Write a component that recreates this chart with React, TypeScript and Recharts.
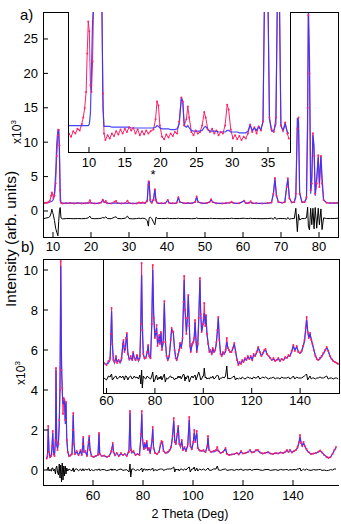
import { LineChart, Line, XAxis, YAxis } from "recharts";

const FONT = '"Liberation Sans", Arial, Helvetica, sans-serif';
const RED = "#ff2266";
const BLUE = "#3232ff";

// panel a, full pattern (x10^3 counts)
const thetaA = [
  7.6, 8.0, 8.4, 8.8, 9.2, 9.5, 9.7, 9.9, 10.1, 10.4,
  10.7, 11.0, 11.3, 11.5, 11.7, 11.9, 12.1, 12.5, 13.5, 14.5,
  15.5, 16.5, 17.5, 18.5, 19.3, 19.7, 20.1, 21.0, 22.0, 22.7,
  23.1, 23.5, 23.9, 24.3, 25.3, 26.2, 26.6, 27.0, 28.0, 29.0,
  29.6, 30.0, 31.0, 32.0, 32.6, 33.1, 33.6, 34.2, 34.8, 35.1,
  35.3, 35.6, 36.0, 36.5, 36.8, 37.1, 37.5, 38.5, 39.5, 40.2,
  40.6, 41.5, 42.5, 43.0, 43.4, 44.5, 45.5, 46.5, 47.4, 47.8,
  48.2, 49.2, 50.5, 51.2, 51.6, 52.0, 53.0, 54.5, 55.5, 56.5,
  57.0, 57.5, 59.0, 60.3, 60.7, 61.5, 62.0, 62.4, 63.5, 65.0,
  66.5, 67.5, 68.0, 68.4, 68.8, 69.3, 70.3, 71.0, 71.5, 71.8,
  72.2, 72.8, 73.5, 73.9, 74.3, 74.6, 74.9, 75.5, 76.2, 76.7,
  77.0, 77.2, 77.5, 77.8, 78.1, 78.4, 78.7, 79.0, 79.4, 79.8,
  80.1, 80.5, 80.8, 81.2, 82.0, 83.0, 84.0, 85.0,
];
const obsA = [
  1.15, 1.2, 1.2, 1.3, 1.5, 2.2, 2.7, 2.4, 1.9, 2.2,
  4.0, 8.0, 11.0, 11.8, 9.5, 3.0, 1.2, 1.1, 1.12, 1.15,
  1.1, 1.15, 1.1, 1.12, 1.2, 1.55, 1.15, 1.1, 1.12, 1.25,
  1.65, 1.3, 1.45, 1.12, 1.1, 1.35, 1.45, 1.15, 1.1, 1.15,
  1.5, 1.15, 1.08, 1.1, 1.25, 1.15, 1.25, 1.15, 1.4, 3.8,
  4.3, 1.6, 1.2, 1.6, 3.15, 1.6, 1.15, 1.12, 1.12, 1.6,
  1.15, 1.12, 1.15, 2.0, 1.3, 1.12, 1.15, 1.12, 1.3, 2.1,
  1.3, 1.12, 1.15, 1.3, 1.7, 1.3, 1.12, 1.1, 1.15, 1.2,
  1.35, 1.15, 1.12, 1.5, 1.15, 1.15, 1.4, 1.15, 1.12, 1.1,
  1.15, 1.25, 2.5, 4.8, 2.2, 1.3, 1.2, 1.3, 3.5, 4.75,
  1.8, 1.25, 1.3, 2.5, 12.0, 13.6, 2.5, 1.3, 1.3, 2.0,
  15.0, 28.5, 20.0, 3.0, 4.0, 11.3, 8.0, 2.5, 4.0, 8.1,
  3.5, 8.0, 4.0, 1.6, 1.2, 1.15, 1.15, 1.2,
];
const calcA = [
  1.15, 1.18, 1.2, 1.22, 1.3, 1.35, 1.4, 1.5, 1.7, 2.6,
  5.5, 10.0, 11.8, 11.7, 8.0, 1.5, 1.2, 1.15, 1.15, 1.15,
  1.14, 1.14, 1.13, 1.13, 1.14, 1.2, 1.13, 1.12, 1.12, 1.22,
  1.6, 1.25, 1.2, 1.12, 1.12, 1.15, 1.18, 1.12, 1.11, 1.11,
  1.15, 1.11, 1.1, 1.1, 1.2, 1.12, 1.2, 1.12, 1.6, 4.3,
  4.2, 1.4, 1.2, 1.9, 3.2, 1.4, 1.15, 1.12, 1.12, 1.55,
  1.15, 1.12, 1.13, 1.95, 1.3, 1.12, 1.13, 1.12, 1.3, 2.0,
  1.3, 1.12, 1.13, 1.3, 1.65, 1.3, 1.12, 1.12, 1.13, 1.2,
  1.3, 1.15, 1.12, 1.45, 1.15, 1.13, 1.35, 1.15, 1.12, 1.12,
  1.13, 1.2, 2.6, 4.6, 2.3, 1.3, 1.2, 1.3, 3.6, 4.6,
  1.9, 1.25, 1.3, 2.0, 13.5, 13.0, 2.7, 1.3, 1.3, 1.8,
  12.0, 30.0, 22.0, 2.5, 5.0, 11.0, 9.5, 2.2, 5.0, 7.8,
  4.0, 8.0, 5.0, 1.6, 1.2, 1.15, 1.13, 1.15,
];
const diffA = [
  -1.1, -1.05, -1.0, -0.95, -0.8, -0.3, 0.25, -0.2, -0.6, -1.4,
  -2.5, -3.1, -3.6, -1.5, 0.1, 0.5, -1.0, -1.15, -1.1, -1.1,
  -1.12, -1.1, -1.12, -1.1, -1.0, -0.75, -1.1, -1.12, -1.1, -1.05,
  -0.95, -1.0, -0.85, -1.1, -1.12, -0.9, -0.85, -1.1, -1.12, -1.05,
  -0.75, -1.1, -1.14, -1.1, -1.05, -1.1, -1.05, -1.1, -1.4, -2.2,
  -1.0, -0.9, -1.1, -1.7, -2.0, -0.9, -1.1, -1.1, -1.1, -1.05,
  -1.1, -1.1, -1.1, -1.05, -1.1, -1.1, -1.1, -1.12, -1.1, -1.0,
  -1.1, -1.1, -1.1, -1.1, -1.05, -1.1, -1.1, -1.12, -1.1, -1.1,
  -1.05, -1.1, -1.1, -1.05, -1.1, -1.1, -1.05, -1.1, -1.1, -1.12,
  -1.1, -1.05, -1.2, -0.9, -1.2, -1.1, -1.1, -1.1, -1.2, -0.95,
  -1.2, -1.1, -1.1, 0.4, -3.0, -0.5, -1.3, -1.1, -1.1, -1.0,
  0.55, -2.2, -2.75, 0.4, -2.0, 0.4, -2.6, 0.5, -2.5, 0.4,
  -2.0, 0.3, -2.7, -1.0, -1.1, -1.1, -1.1, -1.05,
];

// panel a, inset (low-angle region, magnified)
const thetaIA = [
  7.2, 7.5, 7.8, 8.1, 8.4, 8.7, 9.0, 9.2, 9.4, 9.6,
  9.75, 9.9, 10.05, 10.2, 10.35, 10.5, 10.65, 11.8, 11.95, 12.1,
  12.3, 12.6, 12.9, 13.2, 13.5, 13.8, 14.1, 14.4, 14.7, 15.0,
  15.3, 15.6, 15.9, 16.2, 16.5, 16.8, 17.1, 17.4, 17.7, 18.0,
  18.3, 18.6, 19.0, 19.3, 19.5, 19.7, 19.9, 20.2, 20.5, 20.8,
  21.1, 21.4, 21.7, 22.0, 22.3, 22.6, 22.9, 23.1, 23.3, 23.6,
  23.8, 24.0, 24.3, 24.6, 24.9, 25.2, 25.5, 25.8, 26.1, 26.3,
  26.6, 26.9, 27.2, 27.5, 27.8, 28.1, 28.4, 28.7, 29.0, 29.3,
  29.5, 29.8, 30.1, 30.4, 30.7, 31.0, 31.3, 31.6, 31.9, 32.2,
  32.5, 32.8, 33.1, 33.4, 33.7, 34.0, 34.3, 34.5, 35.0, 35.2,
  35.5, 35.8, 36.1, 36.3, 36.6, 36.8, 37.1, 37.4, 37.7, 37.9,
];
const obsIA = [
  1.1, 1.06, 1.13, 1.1, 1.16, 1.14, 1.22, 1.3, 1.42, 1.62,
  2.1, 2.5, 2.38, 1.7, 1.62, 2.0, 2.75, 2.75, 1.6, 1.1,
  1.02, 1.08, 1.04, 1.1, 1.07, 1.13, 1.09, 1.15, 1.1, 1.16,
  1.12, 1.18, 1.14, 1.17, 1.1, 1.15, 1.08, 1.13, 1.09, 1.14,
  1.1, 1.13, 1.15, 1.28, 1.5, 1.45, 1.2, 1.06, 1.03, 1.09,
  1.05, 1.1, 1.07, 1.12, 1.1, 1.25, 1.55, 1.5, 1.2, 1.28,
  1.44, 1.3, 1.12, 1.08, 1.14, 1.1, 1.12, 1.2, 1.37, 1.3,
  1.15, 1.12, 1.16, 1.1, 1.14, 1.08, 1.12, 1.1, 1.2, 1.46,
  1.4, 1.15, 1.04, 1.08, 1.03, 1.07, 1.02, 1.06, 1.04, 1.1,
  1.21, 1.12, 1.18, 1.1, 1.19, 1.14, 1.25, 2.75, 2.75, 1.3,
  1.15, 1.12, 1.3, 2.75, 2.75, 1.2, 1.14, 1.24, 1.1, 1.04,
];
const calcIA = [
  1.2, 1.2, 1.2, 1.2, 1.2, 1.2, 1.2, 1.2, 1.2, 1.2,
  1.2, 1.2, 1.22, 1.35, 1.9, 2.5, 2.75, 2.75, 1.4, 1.19,
  1.19, 1.19, 1.19, 1.18, 1.18, 1.18, 1.18, 1.18, 1.18, 1.18,
  1.18, 1.18, 1.17, 1.17, 1.17, 1.17, 1.17, 1.17, 1.17, 1.17,
  1.17, 1.17, 1.17, 1.18, 1.2, 1.19, 1.17, 1.16, 1.16, 1.16,
  1.16, 1.15, 1.15, 1.15, 1.16, 1.22, 1.55, 1.5, 1.2, 1.18,
  1.2, 1.17, 1.14, 1.13, 1.13, 1.13, 1.13, 1.14, 1.18, 1.19,
  1.15, 1.13, 1.13, 1.13, 1.13, 1.12, 1.12, 1.12, 1.12, 1.14,
  1.14, 1.12, 1.12, 1.12, 1.12, 1.11, 1.11, 1.11, 1.11, 1.13,
  1.21, 1.14, 1.17, 1.14, 1.19, 1.15, 1.25, 2.75, 2.75, 1.28,
  1.13, 1.13, 1.22, 2.75, 2.75, 1.2, 1.13, 1.22, 1.12, 1.1,
];

// panel b, full pattern
const thetaB = [
  41.5, 41.8, 42.1, 42.4, 42.8, 43.3, 43.6, 43.9, 44.2, 44.6,
  45.0, 45.2, 45.5, 45.8, 46.2, 46.5, 46.8, 47.1, 47.4, 47.7,
  48.0, 48.3, 48.6, 48.9, 49.2, 49.5, 49.9, 50.4, 51.0, 51.6,
  51.9, 52.1, 52.4, 52.8, 53.5, 54.2, 55.0, 55.5, 55.9, 56.1,
  56.4, 57.0, 57.6, 58.2, 58.5, 58.8, 59.4, 60.2, 61.0, 62.0,
  62.4, 62.7, 63.5, 64.5, 65.5, 66.5, 67.3, 67.6, 67.9, 68.2,
  68.8, 69.5, 70.3, 71.2, 72.0, 72.7, 73.5, 74.4, 74.8, 75.1,
  75.5, 76.2, 77.0, 77.8, 78.6, 79.2, 79.5, 79.8, 80.3, 80.7,
  81.1, 81.5, 81.9, 82.4, 82.9, 83.6, 83.9, 84.2, 84.8, 85.6,
  86.4, 87.0, 87.4, 87.8, 88.2, 89.0, 89.8, 90.6, 91.2, 91.8,
  92.3, 92.7, 93.1, 93.7, 94.1, 94.5, 95.0, 95.5, 96.0, 96.6,
  97.2, 97.9, 98.5, 98.9, 99.5, 100.1, 100.5, 100.9, 101.5, 101.9,
  102.6, 103.4, 104.2, 105.0, 105.7, 106.0, 106.4, 107.2, 108.2, 109.2,
  109.7, 110.2, 111.0, 112.0, 113.0, 113.6, 114.5, 115.5, 116.5, 117.5,
  118.3, 119.2, 120.0, 121.0, 122.0, 122.8, 123.5, 124.3, 125.2, 126.0,
  126.8, 127.8, 128.8, 130.0, 131.0, 132.0, 133.0, 134.0, 135.0, 136.0,
  137.0, 137.6, 138.2, 138.8, 139.6, 140.4, 141.2, 141.8, 142.4, 142.8,
  143.2, 143.7, 144.2, 144.7, 145.4, 146.2, 147.2, 148.2, 149.2, 150.2,
  150.9, 151.6, 152.5, 153.4, 154.2, 155.0, 155.8, 156.5, 157.2,
];
const obsB = [
  0.58, 0.75, 2.2, 0.9, 0.65, 0.7, 1.2, 1.95, 0.8, 0.7,
  1.5, 5.1, 1.4, 1.0, 1.3, 2.5, 4.0, 10.45, 5.0, 4.1,
  2.8, 3.6, 3.5, 2.5, 3.4, 1.5, 0.9, 0.7, 0.75, 0.8,
  2.0, 2.85, 1.3, 0.8, 0.95, 0.75, 1.0, 0.75, 1.3, 1.65,
  0.9, 0.95, 0.7, 1.4, 1.7, 1.0, 0.7, 0.65, 0.7, 0.75,
  1.85, 0.8, 0.7, 0.72, 0.65, 0.7, 0.95, 1.1, 1.35, 0.9,
  0.75, 0.85, 0.7, 0.85, 0.75, 0.8, 0.7, 0.9, 2.95, 1.0,
  0.9, 0.95, 0.75, 0.8, 0.75, 1.8, 2.95, 1.5, 1.05, 1.35,
  1.1, 1.45, 1.0, 1.1, 0.85, 1.5, 2.15, 1.1, 0.85, 0.8,
  0.9, 1.3, 1.45, 1.4, 0.95, 0.85, 0.9, 1.0, 1.15, 1.7,
  2.6, 1.4, 1.3, 1.8, 2.2, 1.3, 1.2, 1.5, 1.0, 1.15,
  0.95, 1.3, 2.65, 1.2, 1.05, 1.4, 2.0, 1.4, 1.95, 1.1,
  1.0, 0.95, 1.0, 0.9, 1.2, 1.7, 1.0, 0.9, 0.95, 1.0,
  1.15, 0.95, 0.85, 0.9, 1.1, 0.8, 0.75, 0.78, 0.8, 0.85,
  0.78, 0.95, 0.82, 0.85, 0.9, 1.0, 0.88, 0.9, 1.0, 1.0,
  0.88, 0.82, 0.85, 0.9, 0.82, 0.8, 0.85, 0.82, 0.88, 0.85,
  0.92, 1.0, 0.9, 1.0, 0.88, 0.95, 1.0, 1.15, 1.4, 1.75,
  1.35, 1.2, 1.4, 1.2, 1.05, 0.9, 0.8, 0.82, 0.85, 0.92,
  0.97, 0.88, 0.75, 0.65, 0.6, 0.65, 0.8, 1.0, 1.15,
];
const calcB = [
  0.6, 0.7, 2.05, 0.95, 0.65, 0.75, 1.1, 1.85, 0.85, 0.7,
  1.7, 5.0, 1.2, 1.1, 1.5, 2.2, 4.4, 10.2, 5.6, 3.9,
  3.3, 3.4, 3.5, 2.3, 3.35, 1.6, 0.9, 0.7, 0.7, 0.85,
  1.9, 2.75, 1.4, 0.8, 0.9, 0.75, 0.95, 0.75, 1.2, 1.6,
  0.9, 0.9, 0.7, 1.35, 1.65, 1.05, 0.7, 0.65, 0.68, 0.75,
  1.8, 0.8, 0.7, 0.7, 0.66, 0.7, 0.9, 1.1, 1.3, 0.9,
  0.72, 0.85, 0.7, 0.8, 0.75, 0.8, 0.7, 1.0, 2.85, 1.2,
  0.85, 0.9, 0.75, 0.8, 0.75, 1.7, 2.8, 1.6, 1.0, 1.3,
  1.1, 1.4, 1.0, 1.05, 0.85, 1.45, 2.05, 1.15, 0.85, 0.8,
  0.9, 1.25, 1.4, 1.35, 0.95, 0.85, 0.85, 0.95, 1.1, 1.6,
  2.45, 1.5, 1.25, 1.8, 2.15, 1.35, 1.15, 1.45, 1.0, 1.1,
  0.95, 1.2, 2.5, 1.3, 1.0, 1.35, 1.85, 1.45, 1.85, 1.15,
  0.95, 0.95, 0.95, 0.9, 1.15, 1.6, 1.0, 0.9, 0.9, 0.95,
  1.0, 0.95, 0.85, 0.9, 1.05, 0.8, 0.75, 0.78, 0.8, 0.85,
  0.78, 0.9, 0.82, 0.85, 0.9, 0.98, 0.88, 0.88, 0.98, 0.97,
  0.88, 0.82, 0.85, 0.88, 0.82, 0.8, 0.85, 0.82, 0.88, 0.85,
  0.9, 0.98, 0.9, 1.0, 0.88, 0.92, 1.0, 1.1, 1.35, 1.65,
  1.4, 1.2, 1.35, 1.2, 1.0, 0.9, 0.8, 0.82, 0.85, 0.9,
  0.95, 0.88, 0.75, 0.68, 0.62, 0.65, 0.8, 0.95, 1.1,
];
const diffB = [
  0.0, 0.05, 0.15, -0.05, 0.03, -0.06, 0.1, 0.1, -0.05, 0.05,
  -0.2, 0.1, 0.2, -0.1, -0.25, 0.3, -0.4, 0.25, -0.6, 0.35,
  -0.5, 0.2, -0.3, 0.2, -0.2, 0.1, -0.05, 0.05, 0.0, -0.05,
  0.08, 0.1, -0.1, 0.03, 0.06, -0.04, 0.05, -0.05, 0.06, 0.05,
  -0.04, 0.05, 0.0, 0.05, 0.06, -0.05, 0.02, -0.03, 0.02, 0.0,
  0.06, -0.02, 0.02, 0.02, -0.03, 0.0, 0.05, -0.03, 0.05, 0.0,
  0.03, -0.03, 0.02, 0.05, -0.02, 0.0, 0.02, -0.1, 0.3, -0.35,
  0.05, 0.05, -0.03, 0.02, -0.02, 0.05, 0.1, -0.1, 0.05, 0.05,
  -0.02, 0.05, -0.02, 0.05, 0.0, 0.05, 0.1, -0.05, 0.02, -0.02,
  0.03, 0.05, 0.05, 0.05, -0.02, 0.02, 0.05, 0.05, 0.05, 0.1,
  0.15, -0.1, 0.05, 0.0, 0.05, -0.05, 0.05, 0.05, -0.02, 0.05,
  0.0, 0.1, 0.15, -0.1, 0.05, 0.05, 0.15, -0.05, 0.1, -0.05,
  0.05, 0.0, 0.05, -0.02, 0.05, 0.1, 0.0, -0.02, 0.05, 0.05,
  0.2, 0.0, -0.02, 0.03, 0.05, -0.02, 0.0, 0.02, -0.02, 0.03,
  0.0, 0.05, -0.02, 0.02, 0.0, 0.04, -0.02, 0.02, 0.03, 0.03,
  0.0, -0.02, 0.02, 0.03, -0.02, 0.0, 0.02, -0.02, 0.03, 0.0,
  0.02, 0.03, -0.02, 0.02, 0.0, 0.03, 0.0, 0.05, 0.05, 0.1,
  -0.05, 0.0, 0.05, -0.02, 0.05, 0.0, -0.02, 0.02, 0.0, 0.02,
  0.03, -0.02, 0.0, -0.03, -0.02, 0.02, 0.0, 0.05, 0.05,
];

// panel b, inset (magnified, offset)
const thetaIB = [
  59.0, 60.0, 60.8, 61.5, 61.8, 62.1, 62.4, 62.8, 63.3, 63.9,
  64.4, 65.0, 65.6, 66.2, 66.7, 67.0, 67.4, 67.8, 68.1, 68.4,
  68.8, 69.4, 70.0, 70.6, 71.0, 71.5, 72.0, 72.6, 73.2, 73.8,
  74.2, 74.5, 74.8, 75.2, 75.7, 76.2, 76.8, 77.2, 77.6, 78.2,
  78.7, 79.1, 79.5, 80.0, 80.4, 80.7, 81.1, 81.5, 81.8, 82.1,
  82.5, 82.9, 83.4, 83.9, 84.3, 84.8, 85.3, 85.9, 86.5, 86.9,
  87.3, 87.6, 88.1, 88.6, 89.0, 89.6, 90.0, 90.4, 90.9, 91.4,
  91.8, 92.1, 92.4, 92.7, 93.0, 93.4, 93.8, 94.2, 94.5, 94.8,
  95.3, 95.8, 96.2, 96.6, 97.0, 97.3, 97.7, 98.1, 98.6, 98.9,
  99.3, 99.8, 100.1, 100.4, 100.8, 101.1, 101.5, 102.0, 102.5, 103.0,
  103.5, 103.9, 104.4, 104.9, 105.4, 105.8, 106.2, 106.6, 107.1, 107.6,
  108.1, 108.6, 109.2, 109.7, 110.1, 110.6, 111.0, 111.6, 112.2, 112.8,
  113.3, 113.9, 114.5, 115.0, 115.6, 116.1, 116.6, 117.2, 117.8, 118.4,
  119.0, 119.6, 120.2, 120.8, 121.4, 122.0, 122.7, 123.3, 124.0, 124.6,
  125.2, 125.7, 126.3, 127.0, 127.6, 128.3, 129.0, 129.7, 130.3, 131.0,
  131.7, 132.4, 133.1, 133.8, 134.5, 135.2, 135.8, 136.5, 137.2, 137.8,
  138.6, 139.2, 139.9, 140.6, 141.2, 141.8, 142.3, 142.7, 143.1, 143.6,
  144.1, 144.6, 145.1, 145.7, 146.3, 146.9, 147.5, 148.2, 148.9, 149.6,
  150.3, 151.0, 151.6, 152.3, 153.0, 153.7, 154.4, 155.1, 155.7,
];
const obsIB = [
  5.35, 5.25, 5.45, 5.6, 6.8, 8.1, 6.3, 5.5, 5.4, 5.7,
  5.35, 5.5, 5.4, 5.6, 6.3, 6.5, 5.9, 6.1, 6.6, 6.85,
  5.8, 5.55, 5.7, 5.5, 5.9, 5.6, 5.5, 5.75, 5.5, 5.7,
  7.3, 10.35, 7.0, 5.8, 5.6, 5.6, 5.9, 6.25, 5.7, 5.6,
  7.3, 10.25, 7.6, 6.6, 6.9, 7.25, 6.2, 6.55, 6.75, 6.3,
  6.9, 6.0, 6.4, 8.45, 6.4, 5.7, 5.5, 5.7, 6.5, 7.1,
  6.95, 6.9, 6.0, 5.6, 5.5, 5.8, 6.0, 6.35, 6.1, 6.6,
  8.4, 9.7, 8.0, 7.6, 6.8, 7.6, 8.75, 7.2, 6.2, 5.9,
  6.3, 6.4, 6.6, 7.5, 6.4, 5.9, 6.3, 7.6, 9.6, 7.8,
  6.9, 7.3, 7.6, 8.35, 7.2, 7.75, 6.8, 6.3, 5.9, 6.0,
  5.8, 6.1, 5.9, 6.0, 6.4, 7.0, 7.65, 6.5, 5.8, 5.7,
  5.9, 5.8, 6.0, 6.6, 6.1, 6.0, 5.9, 5.9, 6.1, 6.35,
  5.9, 5.5, 5.25, 5.4, 5.3, 5.5, 5.4, 5.6, 5.5, 5.7,
  5.55, 5.7, 5.5, 5.8, 5.7, 5.9, 6.15, 5.9, 5.7, 5.85,
  6.0, 6.05, 5.8, 5.7, 5.6, 5.5, 5.6, 5.45, 5.5, 5.6,
  5.45, 5.55, 5.5, 5.65, 5.6, 5.75, 5.7, 5.95, 6.25, 5.95,
  6.2, 5.9, 5.85, 5.95, 6.2, 6.5, 7.1, 7.65, 6.9, 6.6,
  6.85, 6.5, 6.3, 6.0, 5.7, 5.55, 5.5, 5.6, 5.7, 5.85,
  6.0, 6.15, 5.95, 5.7, 5.55, 5.45, 5.4, 5.35, 5.3,
];
const calcIB = [
  5.3, 5.3, 5.35, 5.5, 6.6, 7.95, 6.4, 5.55, 5.35, 5.6,
  5.4, 5.5, 5.35, 5.5, 6.2, 6.45, 6.0, 6.0, 6.5, 6.8,
  5.9, 5.5, 5.6, 5.5, 5.85, 5.6, 5.5, 5.7, 5.45, 5.6,
  7.5, 9.75, 7.4, 5.8, 5.55, 5.6, 5.85, 6.2, 5.7, 5.55,
  7.2, 10.0, 7.8, 6.7, 6.8, 7.1, 6.3, 6.5, 6.7, 6.35,
  6.85, 6.1, 6.3, 8.35, 6.6, 5.7, 5.5, 5.65, 6.4, 7.05,
  6.9, 6.85, 6.1, 5.6, 5.5, 5.75, 5.95, 6.3, 6.15, 6.5,
  8.2, 9.5, 8.2, 7.5, 6.9, 7.5, 8.7, 7.4, 6.3, 5.9,
  6.2, 6.35, 6.5, 7.4, 6.5, 5.95, 6.2, 7.4, 9.5, 8.0,
  6.9, 7.2, 7.5, 7.85, 7.3, 7.7, 6.85, 6.35, 5.95, 5.95,
  5.8, 6.05, 5.9, 5.95, 6.3, 6.9, 7.6, 6.6, 5.85, 5.7,
  5.85, 5.8, 5.9, 6.4, 6.15, 6.0, 5.9, 5.9, 6.05, 6.3,
  6.0, 5.55, 5.3, 5.35, 5.35, 5.45, 5.4, 5.55, 5.5, 5.65,
  5.55, 5.65, 5.5, 5.75, 5.7, 5.85, 6.1, 5.95, 5.7, 5.8,
  5.95, 6.0, 5.8, 5.7, 5.6, 5.5, 5.55, 5.45, 5.5, 5.55,
  5.45, 5.55, 5.5, 5.6, 5.6, 5.7, 5.7, 5.9, 6.2, 6.0,
  6.15, 5.95, 5.85, 5.9, 6.15, 6.4, 7.0, 7.5, 7.0, 6.6,
  6.8, 6.55, 6.3, 6.0, 5.75, 5.55, 5.5, 5.55, 5.65, 5.8,
  5.95, 6.1, 6.0, 5.7, 5.55, 5.45, 5.4, 5.35, 5.35,
];
const diffIB = [
  4.6, 4.5, 4.7, 4.65, 4.75, 4.8, 4.5, 4.55, 4.65, 4.7,
  4.55, 4.6, 4.7, 4.6, 4.7, 4.65, 4.5, 4.7, 4.7, 4.65,
  4.5, 4.65, 4.7, 4.55, 4.6, 4.7, 4.6, 4.65, 4.55, 4.75,
  4.3, 5.0, 4.1, 4.7, 4.6, 4.55, 4.7, 4.65, 4.6, 4.55,
  4.7, 4.9, 4.4, 4.5, 4.7, 4.75, 4.5, 4.6, 4.65, 4.55,
  4.7, 4.5, 4.65, 4.8, 4.4, 4.6, 4.55, 4.65, 4.7, 4.6,
  4.65, 4.6, 4.5, 4.6, 4.55, 4.7, 4.6, 4.7, 4.55, 4.7,
  4.8, 4.75, 4.45, 4.65, 4.55, 4.7, 4.7, 4.4, 4.5, 4.6,
  4.7, 4.6, 4.7, 4.75, 4.5, 4.6, 4.75, 4.9, 4.7, 4.5,
  4.55, 4.7, 4.7, 5.1, 4.6, 4.65, 4.55, 4.6, 4.55, 4.65,
  4.6, 4.7, 4.55, 4.6, 4.7, 4.75, 4.7, 4.5, 4.6, 4.6,
  4.65, 4.6, 4.7, 5.2, 4.55, 4.6, 4.55, 4.6, 4.65, 4.7,
  4.5, 4.6, 4.55, 4.6, 4.55, 4.65, 4.6, 4.55, 4.6, 4.65,
  4.6, 4.6, 4.55, 4.65, 4.6, 4.6, 4.7, 4.55, 4.6, 4.65,
  4.6, 4.65, 4.6, 4.55, 4.6, 4.6, 4.65, 4.55, 4.6, 4.6,
  4.55, 4.65, 4.6, 4.6, 4.6, 4.65, 4.55, 4.6, 4.7, 4.55,
  4.65, 4.6, 4.6, 4.6, 4.65, 4.7, 4.75, 4.8, 4.5, 4.6,
  4.7, 4.55, 4.6, 4.6, 4.55, 4.6, 4.6, 4.65, 4.6, 4.6,
  4.65, 4.7, 4.55, 4.6, 4.6, 4.55, 4.6, 4.6, 4.55,
];

const ticksA = [10, 20, 30, 40, 50, 60, 70, 80];
const ticksAY = [0, 5, 10, 15, 20, 25];
const ticksIA = [10, 15, 20, 25, 30, 35];
const ticksB = [60, 80, 100, 120, 140];
const ticksBY = [0, 2, 4, 6, 8, 10];

const dataA = thetaA.map((t, i) => ({ t, obs: obsA[i], calc: calcA[i], diff: diffA[i] }));
const dataIA = thetaIA.map((t, i) => ({ t, obs: obsIA[i], calc: calcIA[i] }));
const dataB = thetaB.map((t, i) => ({ t, obs: obsB[i], calc: calcB[i], diff: diffB[i] }));
const dataIB = thetaIB.map((t, i) => ({ t, obs: obsIB[i], calc: calcIB[i], diff: diffIB[i] }));

const leftTick = (p: any) => (
  <g>
    <line x1={p.x} x2={p.x + 5} y1={p.y} y2={p.y} stroke="#000" />
    <text x={p.x - 5} y={p.y + 4.5} textAnchor="end" fontSize={13} fontFamily={FONT} fill="#000">
      {p.payload.value}
    </text>
  </g>
);

const bottomTick = (dy: number) => (p: any) => (
  <g>
    <line x1={p.x} x2={p.x} y1={p.y} y2={p.y - 5} stroke="#000" />
    <text x={p.x} y={p.y + dy} textAnchor="middle" fontSize={13} fontFamily={FONT} fill="#000">
      {p.payload.value}
    </text>
  </g>
);

function series(withDiff: boolean) {
  return [
    <Line key="o" type="linear" dataKey="obs" stroke={RED} strokeWidth={1}
      dot={{ r: 1, fill: RED, stroke: "none" }} isAnimationActive={false} />,
    <Line key="c" type="linear" dataKey="calc" stroke={BLUE} strokeWidth={1.2} strokeOpacity={0.9}
      dot={false} isAnimationActive={false} />,
    withDiff ? (
      <Line key="d" type="linear" dataKey="diff" stroke="#000" strokeWidth={1}
        dot={false} isAnimationActive={false} />
    ) : null,
  ];
}

const box = (left: number, top: number, w: number, h: number, sides: string, bg?: string) => {
  const s: any = { position: "absolute", left, top, width: w, height: h, boxSizing: "border-box", pointerEvents: "none" };
  if (bg) s.background = bg;
  for (const c of sides) {
    const k = { t: "borderTop", b: "borderBottom", l: "borderLeft", r: "borderRight" }[c as "t"];
    s[k] = "1px solid #000";
  }
  return <div style={s} />;
};

export default function App() {
  return (
    <div style={{ position: "absolute", left: 0, top: 0, width: 341, height: 524, background: "#fff", fontFamily: FONT }}>
      {/* panel a */}
      <div style={{ position: "absolute", left: 0, top: 0 }}>
        <LineChart width={341} height={260} data={dataA} margin={{ top: 12, right: 2, bottom: 0, left: 0 }}>
          <XAxis type="number" dataKey="t" domain={[7.37, 85.26]} ticks={ticksA} interval={0}
            allowDataOverflow height={23} axisLine={false} tickLine={false} tickSize={0} tickMargin={0}
            tick={bottomTick(14)} />
          <YAxis type="number" domain={[-3.78, 28.92]} ticks={ticksAY} interval={0} allowDataOverflow
            width={43} axisLine={false} tickLine={false} tickSize={0} tickMargin={0} tick={leftTick} />
          {series(true)}
        </LineChart>
      </div>
      {box(43, 12, 296, 226, "tblr")}

      {box(68, 12, 223, 141, "", "#fff")}
      <div style={{ position: "absolute", left: 58, top: 12 }}>
        <LineChart width={232} height={160} data={dataIA} margin={{ top: 0, right: 0, bottom: 0, left: 10 }}>
          <XAxis type="number" dataKey="t" domain={[7.07, 38.07]} ticks={ticksIA} interval={0}
            allowDataOverflow height={20} axisLine={false} tickLine={false} tickSize={0} tickMargin={0}
            tick={bottomTick(15)} />
          <YAxis hide type="number" domain={[0.87, 2.62]} allowDataOverflow />
          {series(false)}
        </LineChart>
      </div>
      {box(68, 12, 223, 141, "lbr")}

      {/* panel b */}
      <div style={{ position: "absolute", left: 0, top: 250 }}>
        <LineChart width={341} height={274} data={dataB} margin={{ top: 9, right: 2, bottom: 0, left: 0 }}>
          <XAxis type="number" dataKey="t" domain={[40, 158.4]} ticks={ticksB} interval={0}
            allowDataOverflow height={39} axisLine={false} tickLine={false} tickSize={0} tickMargin={0}
            tick={bottomTick(15)} />
          <YAxis type="number" domain={[-0.75, 10.55]} ticks={ticksBY} interval={0} allowDataOverflow
            width={43} axisLine={false} tickLine={false} tickSize={0} tickMargin={0} tick={leftTick} />
          {series(true)}
        </LineChart>
      </div>
      {box(43, 259, 296, 227, "tlb")}

      {box(103, 259, 237, 135, "", "#fff")}
      <div style={{ position: "absolute", left: 91, top: 259 }}>
        <LineChart width={248} height={155} data={dataIB} margin={{ top: 0, right: 0, bottom: 0, left: 12 }}>
          <XAxis type="number" dataKey="t" domain={[58.55, 156.07]} ticks={ticksB} interval={0}
            allowDataOverflow height={21} axisLine={false} tickLine={false} tickSize={0} tickMargin={0}
            tick={bottomTick(12)} />
          <YAxis hide type="number" domain={[3.85, 10.55]} allowDataOverflow />
          {series(true)}
        </LineChart>
      </div>
      {box(103, 259, 237, 135, "tlbr")}

      <svg width={341} height={524} style={{ position: "absolute", left: 0, top: 0, pointerEvents: "none" }}>
        <text x={20} y={19.5} fontSize={15} fontFamily={FONT}>a)</text>
        <text x={21} y={252} fontSize={15} fontFamily={FONT}>b)</text>
        <text x={153} y={179} fontSize={13} textAnchor="middle" fontFamily={FONT}>*</text>
        <text transform="translate(15.5,239) rotate(-90)" textAnchor="middle" fontSize={15.5} fontFamily={FONT}>
          Intensity (arb. units)
        </text>
        <text transform="translate(20.5,132) rotate(-90)" textAnchor="middle" fontSize={12} fontFamily={FONT}>
          x10<tspan fontSize={8} dy={-5}>3</tspan>
        </text>
        <text transform="translate(25,373) rotate(-90)" textAnchor="middle" fontSize={12} fontFamily={FONT}>
          x10<tspan fontSize={8} dy={-5}>3</tspan>
        </text>
        <text x={190} y={518} textAnchor="middle" fontSize={12.5} fontFamily={FONT}>2 Theta (Deg)</text>
      </svg>
    </div>
  );
}
